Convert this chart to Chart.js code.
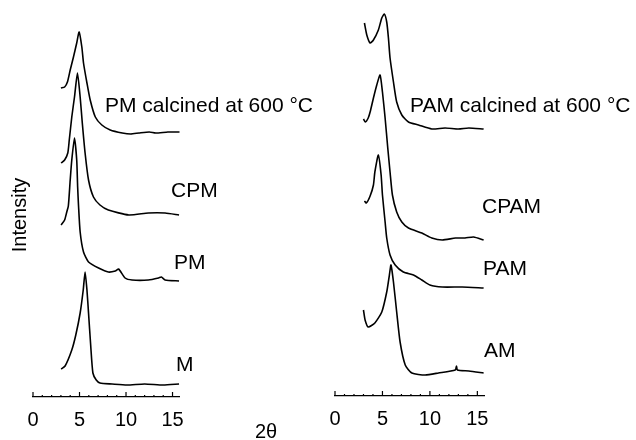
<!DOCTYPE html>
<html lang="en">
<head>
  <meta charset="UTF-8">
  <title>XRD patterns</title>
  <script src="https://cdn.jsdelivr.net/npm/chart.js"></script>
  <style>
    body { margin: 0; background: #fff; overflow: hidden; }
    #wrap { position: relative; width: 636px; height: 440px; overflow: hidden; }
    #left { position: absolute; left: 0; top: 0; }
    #right { position: absolute; left: 316px; top: 0; }
  </style>
</head>
<body>
  <div id="wrap">
    <canvas id="left" width="320" height="444"></canvas>
    <canvas id="right" width="320" height="444"></canvas>
  </div>

  <script>
    // 2theta ticks
    const tickValues = [0, 5, 10, 15];

    // left panel (intensity is height above the axis, arbitrary units)
    const pmcTheta = [3.0, 3.4, 3.7, 4.0, 4.35, 4.7, 4.96, 5.25, 5.43, 5.8, 6.15, 6.7, 7.4, 8.3, 9.6, 10.5, 11.4, 12.5, 13.2, 14.5, 15.5, 15.75];
    const pmcInt   = [309, 310, 315, 327, 340, 354, 365, 350, 334, 314, 297, 280, 272, 267, 264, 263, 264, 265, 264, 265, 265, 265];
    const cpmTheta = [3.02, 3.4, 3.74, 3.9, 4.17, 4.46, 4.78, 5.07, 5.3, 5.6, 5.97, 6.5, 7.2, 8.1, 10.3, 12.4, 14.2, 15.7];
    const cpmInt   = [234, 237, 244, 257, 280, 300, 324, 300, 274, 244, 217, 200, 192, 187, 182, 184, 184, 182];
    const pmTheta  = [3.02, 3.4, 3.63, 3.8, 4.0, 4.17, 4.46, 4.7, 4.8, 4.89, 5.07, 5.43, 5.97, 7.05, 8.1, 8.85, 9.2, 9.9, 10.65, 12.4, 13.5, 13.8, 14.2, 15.7];
    const pmInt    = [172, 177, 185, 191, 217, 237, 259, 237, 210, 192, 165, 145, 135, 129, 125, 126, 128, 119, 117, 117, 119, 120, 117, 116];
    const mTheta   = [3.02, 3.45, 4.17, 4.6, 5.07, 5.4, 5.6, 5.8, 5.97, 6.2, 6.44, 6.8, 7.2, 8.5, 10.1, 12.0, 14.0, 15.7];
    const mInt     = [28, 31, 47, 62, 84, 107, 125, 107, 84, 52, 24, 17, 14, 13, 12, 13, 12, 13];

    // right panel
    const pamcTheta = [3.1, 3.35, 3.7, 4.05, 4.57, 4.93, 5.2, 5.45, 5.63, 5.8, 6.16, 6.5, 7.04, 7.74, 8.8, 10.2, 11.6, 13.0, 14.1, 15.66];
    const pamcInt   = [373, 361, 353, 356, 366, 378, 382, 374, 358, 338, 314, 294, 281, 274, 271, 267, 268, 267, 268, 267];
    const cpamTheta = [3.0, 3.2, 3.5, 3.7, 4.05, 4.4, 4.75, 5.0, 5.28, 5.56, 5.8, 6.05, 6.5, 7.04, 7.74, 9.15, 10.2, 11.3, 12.7, 13.7, 14.6, 15.66];
    const cpamInt   = [277, 274, 278, 284, 298, 311, 321, 304, 278, 248, 224, 201, 184, 174, 168, 163, 158, 156, 158, 158, 159, 156];
    const pamTheta  = [3.1, 3.3, 3.7, 4.05, 4.2, 4.57, 4.86, 5.0, 5.28, 5.45, 5.8, 6.34, 7.2, 8.27, 9.15, 10.0, 11.3, 13.4, 15.66];
    const pamInt    = [195, 193, 200, 211, 224, 241, 221, 201, 174, 158, 141, 131, 124, 121, 116, 111, 109, 109, 108];
    const amTheta   = [3.0, 3.17, 3.5, 4.2, 4.93, 5.45, 5.73, 5.9, 6.16, 6.5, 6.86, 7.4, 8.1, 9.5, 10.9, 12.67, 12.8, 12.9, 14.1, 15.66];
    const amInt     = [86, 76, 69, 73, 84, 104, 121, 131, 114, 84, 54, 31, 23, 21, 23, 26, 30, 26, 25, 23];

    const leftLabels = ['PM calcined at 600 °C', 'CPM', 'PM', 'M'];
    const rightLabels = ['PAM calcined at 600 °C', 'CPAM', 'PAM', 'AM'];

    const FONT = '"Liberation Sans", Arial, Helvetica, sans-serif';

    function pts(xs, ys) {
      return xs.map((x, i) => ({ x: x, y: ys[i] }));
    }

    function line(xs, ys) {
      return {
        data: pts(xs, ys),
        borderColor: '#000',
        borderWidth: 1.6,
        pointRadius: 0,
        tension: 0.2,
        fill: false,
        clip: false
      };
    }

    // minor ticks, curve labels and axis titles
    const deco = {
      id: 'deco',
      afterDraw(chart, args, opts) {
        const ctx = chart.ctx;
        const xs = chart.scales.x;
        const base = xs.top;
        ctx.save();
        ctx.strokeStyle = '#000';
        ctx.lineWidth = 1.2;
        for (let v = 0; v <= 15; v++) {
          const px = xs.getPixelForValue(v);
          const len = v % 5 === 0 ? 5 : 2;
          ctx.beginPath();
          ctx.moveTo(px, base);
          ctx.lineTo(px, base - len);
          ctx.stroke();
        }
        ctx.fillStyle = '#000';
        ctx.font = '21px ' + FONT;
        ctx.textAlign = 'left';
        ctx.textBaseline = 'alphabetic';
        opts.labels.forEach((t, i) => {
          ctx.fillText(t, opts.pos[i][0], opts.pos[i][1]);
        });
        if (opts.titles) {
          ctx.font = '20px ' + FONT;
          ctx.textAlign = 'center';
          ctx.textBaseline = 'middle';
          ctx.fillText('2θ', 266, 432);
          ctx.translate(20, 215);
          ctx.rotate(-Math.PI / 2);
          ctx.fillText('Intensity', 0, 0);
        }
        ctx.restore();
      }
    };

    function makeChart(id, sets, xMax, yMax, pad, decoOpts) {
      return new Chart(document.getElementById(id), {
        type: 'line',
        data: { datasets: sets },
        options: {
          responsive: false,
          animation: false,
          layout: { padding: pad },
          plugins: { legend: { display: false }, tooltip: { enabled: false }, deco: decoOpts },
          scales: {
            x: {
              type: 'linear',
              min: 0,
              max: xMax,
              afterBuildTicks: s => { s.ticks = tickValues.map(v => ({ value: v })); },
              grid: { display: false, drawTicks: false },
              border: { display: true, color: '#000', width: 1.3 },
              ticks: { color: '#000', font: { family: FONT, size: 20 }, padding: 11, maxRotation: 0 }
            },
            y: { display: false, min: 0, max: yMax }
          }
        },
        plugins: [deco]
      });
    }

    makeChart('left',
      [line(pmcTheta, pmcInt), line(cpmTheta, cpmInt), line(pmTheta, pmInt), line(mTheta, mInt)],
      15.75, 380, { left: 33, right: 140.5, top: 17, bottom: 1 },
      { labels: leftLabels, pos: [[105, 112], [171, 197], [174, 269], [176, 371]], titles: true });

    makeChart('right',
      [line(pamcTheta, pamcInt), line(cpamTheta, cpamInt), line(pamTheta, pamInt), line(amTheta, amInt)],
      15.7, 386, { left: 19, right: 152, top: 10, bottom: 2 },
      { labels: rightLabels, pos: [[94, 112], [166, 213], [167, 275], [168, 357]], titles: false });
  </script>
</body>
</html>
